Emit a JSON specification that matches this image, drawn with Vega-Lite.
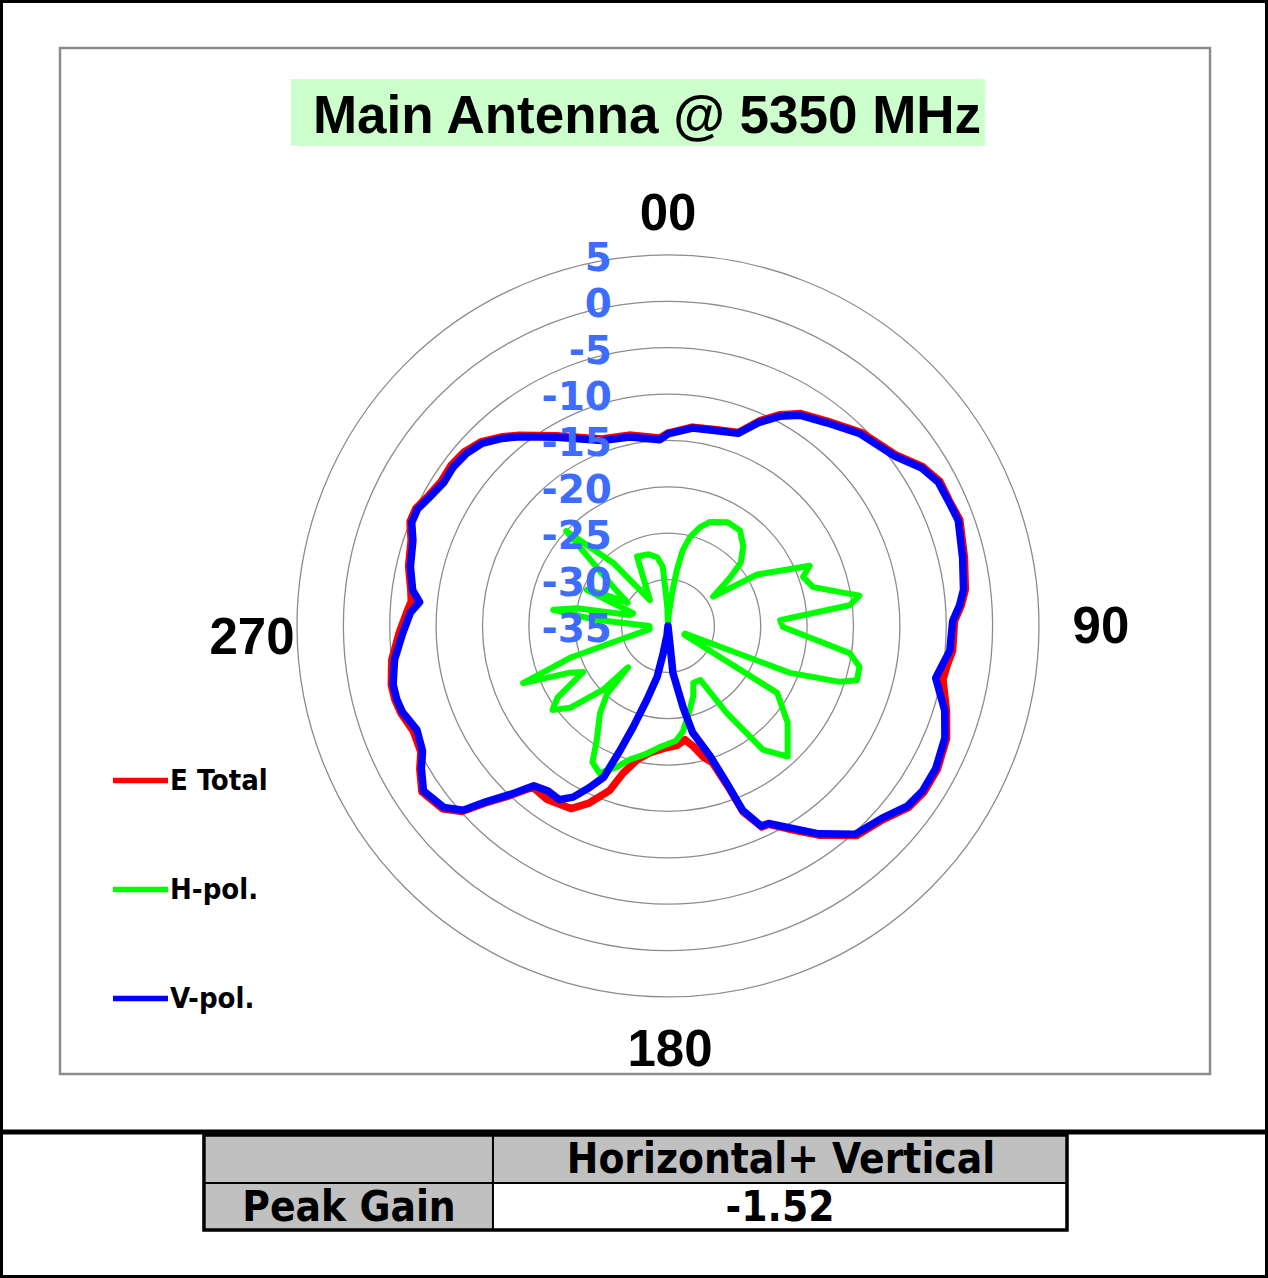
{
  "$schema": "https://vega.github.io/schema/vega-lite/v6.json",
  "width": 1268,
  "height": 1278,
  "autosize": {"type": "none"},
  "padding": 0,
  "background": "white",
  "config": {"view": {"stroke": "black", "strokeWidth": 6}},
  "datasets": {
    "pattern": [
      {"series":"V-pol.","angle":0,"gain":-14.3},{"series":"V-pol.","angle":7,"gain":-13.5},{"series":"V-pol.","angle":14,"gain":-13.3},{"series":"V-pol.","angle":20,"gain":-12.9},{"series":"V-pol.","angle":24,"gain":-11.0},{"series":"V-pol.","angle":28,"gain":-9.4},{"series":"V-pol.","angle":32,"gain":-8.2},{"series":"V-pol.","angle":38,"gain":-7.2},{"series":"V-pol.","angle":45,"gain":-5.7},{"series":"V-pol.","angle":53,"gain":-4.5},{"series":"V-pol.","angle":58,"gain":-2.8},{"series":"V-pol.","angle":62,"gain":-2.0},{"series":"V-pol.","angle":66,"gain":-1.9},{"series":"V-pol.","angle":70,"gain":-1.7},{"series":"V-pol.","angle":77,"gain":-2.4},{"series":"V-pol.","angle":83,"gain":-2.9},{"series":"V-pol.","angle":86,"gain":-3.5},{"series":"V-pol.","angle":89,"gain":-4.3},{"series":"V-pol.","angle":95,"gain":-4.5},{"series":"V-pol.","angle":98,"gain":-5.1},{"series":"V-pol.","angle":101,"gain":-5.6},{"series":"V-pol.","angle":107,"gain":-3.8},{"series":"V-pol.","angle":112,"gain":-2.8},{"series":"V-pol.","angle":118,"gain":-2.3},{"series":"V-pol.","angle":123,"gain":-2.3},{"series":"V-pol.","angle":127,"gain":-2.7},{"series":"V-pol.","angle":132,"gain":-4.0},{"series":"V-pol.","angle":138,"gain":-4.8},{"series":"V-pol.","angle":144,"gain":-7.3},{"series":"V-pol.","angle":148,"gain":-9.2},{"series":"V-pol.","angle":153,"gain":-11.1},{"series":"V-pol.","angle":155,"gain":-11.2},{"series":"V-pol.","angle":158,"gain":-13.6},{"series":"V-pol.","angle":159.5,"gain":-16.9},{"series":"V-pol.","angle":162,"gain":-20.2},{"series":"V-pol.","angle":167,"gain":-23.2},{"series":"V-pol.","angle":169.5,"gain":-26.1},{"series":"V-pol.","angle":174,"gain":-29.9},{"series":"V-pol.","angle":180,"gain":-35},{"series":"V-pol.","angle":186,"gain":-34},{"series":"V-pol.","angle":190,"gain":-32},{"series":"V-pol.","angle":192,"gain":-29.4},{"series":"V-pol.","angle":196,"gain":-26.7},{"series":"V-pol.","angle":199,"gain":-23.5},{"series":"V-pol.","angle":201,"gain":-20.7},{"series":"V-pol.","angle":203,"gain":-17.3},{"series":"V-pol.","angle":206,"gain":-15.6},{"series":"V-pol.","angle":209,"gain":-13.9},{"series":"V-pol.","angle":212,"gain":-12.9},{"series":"V-pol.","angle":216,"gain":-13.0},{"series":"V-pol.","angle":220,"gain":-12.5},{"series":"V-pol.","angle":223,"gain":-10.2},{"series":"V-pol.","angle":226,"gain":-7.7},{"series":"V-pol.","angle":228,"gain":-5.3},{"series":"V-pol.","angle":231,"gain":-3.9},{"series":"V-pol.","angle":236,"gain":-3.2},{"series":"V-pol.","angle":240,"gain":-4.3},{"series":"V-pol.","angle":243,"gain":-5.3},{"series":"V-pol.","angle":247.5,"gain":-5.7},{"series":"V-pol.","angle":252,"gain":-4.9},{"series":"V-pol.","angle":255,"gain":-4.7},{"series":"V-pol.","angle":258,"gain":-4.7},{"series":"V-pol.","angle":263,"gain":-5.3},{"series":"V-pol.","angle":268.5,"gain":-6.4},{"series":"V-pol.","angle":273,"gain":-7.2},{"series":"V-pol.","angle":275.5,"gain":-8.1},{"series":"V-pol.","angle":278,"gain":-7.2},{"series":"V-pol.","angle":283,"gain":-6.5},{"series":"V-pol.","angle":288.5,"gain":-6.0},{"series":"V-pol.","angle":292,"gain":-5.2},{"series":"V-pol.","angle":295,"gain":-5.2},{"series":"V-pol.","angle":298.5,"gain":-5.8},{"series":"V-pol.","angle":302.5,"gain":-6.3},{"series":"V-pol.","angle":306.5,"gain":-6.2},{"series":"V-pol.","angle":310.5,"gain":-6.4},{"series":"V-pol.","angle":314.5,"gain":-6.9},{"series":"V-pol.","angle":318.5,"gain":-8.0},{"series":"V-pol.","angle":322,"gain":-9.1},{"series":"V-pol.","angle":329.5,"gain":-11.4},{"series":"V-pol.","angle":340.5,"gain":-13.8},{"series":"V-pol.","angle":348.5,"gain":-14.2},{"series":"V-pol.","angle":357.5,"gain":-14.9},{"series":"V-pol.","angle":360,"gain":-14.3},

      {"series":"E Total","angle":0,"gain":-14.2},{"series":"E Total","angle":7,"gain":-13.4},{"series":"E Total","angle":14,"gain":-13.2},{"series":"E Total","angle":20,"gain":-12.8},{"series":"E Total","angle":24,"gain":-10.8},{"series":"E Total","angle":28,"gain":-9.2},{"series":"E Total","angle":32,"gain":-8.0},{"series":"E Total","angle":38,"gain":-7.0},{"series":"E Total","angle":45,"gain":-5.5},{"series":"E Total","angle":53,"gain":-4.3},{"series":"E Total","angle":58,"gain":-2.6},{"series":"E Total","angle":62,"gain":-1.8},{"series":"E Total","angle":66,"gain":-1.8},{"series":"E Total","angle":70,"gain":-1.52},{"series":"E Total","angle":77,"gain":-2.2},{"series":"E Total","angle":83,"gain":-2.7},{"series":"E Total","angle":86,"gain":-3.3},{"series":"E Total","angle":89,"gain":-4.1},{"series":"E Total","angle":95,"gain":-4.2},{"series":"E Total","angle":98,"gain":-4.6},{"series":"E Total","angle":101,"gain":-4.8},{"series":"E Total","angle":107,"gain":-3.6},{"series":"E Total","angle":112,"gain":-2.6},{"series":"E Total","angle":118,"gain":-2.1},{"series":"E Total","angle":123,"gain":-2.1},{"series":"E Total","angle":127,"gain":-2.5},{"series":"E Total","angle":132,"gain":-3.8},{"series":"E Total","angle":138,"gain":-4.6},{"series":"E Total","angle":144,"gain":-7.1},{"series":"E Total","angle":148,"gain":-9.0},{"series":"E Total","angle":153,"gain":-11.0},{"series":"E Total","angle":155,"gain":-11.1},{"series":"E Total","angle":158,"gain":-13.4},{"series":"E Total","angle":159.5,"gain":-16.5},{"series":"E Total","angle":162,"gain":-19.5},{"series":"E Total","angle":165,"gain":-20.4},{"series":"E Total","angle":168,"gain":-21.7},{"series":"E Total","angle":171.5,"gain":-22.6},{"series":"E Total","angle":175.5,"gain":-22.1},{"series":"E Total","angle":182,"gain":-21.8},{"series":"E Total","angle":188,"gain":-21.2},{"series":"E Total","angle":193,"gain":-20.2},{"series":"E Total","angle":197,"gain":-18.4},{"series":"E Total","angle":199.5,"gain":-16.2},{"series":"E Total","angle":204,"gain":-14.1},{"series":"E Total","angle":208,"gain":-12.7},{"series":"E Total","angle":215,"gain":-12.2},{"series":"E Total","angle":220,"gain":-12.3},{"series":"E Total","angle":223,"gain":-10.0},{"series":"E Total","angle":226,"gain":-7.5},{"series":"E Total","angle":228,"gain":-5.1},{"series":"E Total","angle":231,"gain":-3.7},{"series":"E Total","angle":236,"gain":-3.0},{"series":"E Total","angle":240,"gain":-4.1},{"series":"E Total","angle":243,"gain":-5.1},{"series":"E Total","angle":247.5,"gain":-5.3},{"series":"E Total","angle":252,"gain":-4.7},{"series":"E Total","angle":255,"gain":-4.5},{"series":"E Total","angle":258,"gain":-4.5},{"series":"E Total","angle":263,"gain":-5.0},{"series":"E Total","angle":268.5,"gain":-6.0},{"series":"E Total","angle":273,"gain":-6.8},{"series":"E Total","angle":275.5,"gain":-7.2},{"series":"E Total","angle":278,"gain":-7.0},{"series":"E Total","angle":283,"gain":-6.3},{"series":"E Total","angle":288.5,"gain":-5.8},{"series":"E Total","angle":292,"gain":-5.0},{"series":"E Total","angle":295,"gain":-5.0},{"series":"E Total","angle":298.5,"gain":-5.6},{"series":"E Total","angle":302.5,"gain":-6.0},{"series":"E Total","angle":306.5,"gain":-5.9},{"series":"E Total","angle":310.5,"gain":-6.1},{"series":"E Total","angle":314.5,"gain":-6.7},{"series":"E Total","angle":318.5,"gain":-7.8},{"series":"E Total","angle":322,"gain":-8.9},{"series":"E Total","angle":329.5,"gain":-11.2},{"series":"E Total","angle":340.5,"gain":-13.6},{"series":"E Total","angle":348.5,"gain":-14.0},{"series":"E Total","angle":357.5,"gain":-14.7},{"series":"E Total","angle":360,"gain":-14.2},

      {"series":"H-pol.","angle":0,"gain":-35},{"series":"H-pol.","angle":3,"gain":-34},{"series":"H-pol.","angle":7,"gain":-31.4},{"series":"H-pol.","angle":9,"gain":-28.9},{"series":"H-pol.","angle":11,"gain":-26.7},{"series":"H-pol.","angle":14,"gain":-25.1},{"series":"H-pol.","angle":18,"gain":-23.8},{"series":"H-pol.","angle":22,"gain":-22.9},{"series":"H-pol.","angle":30,"gain":-22.1},{"series":"H-pol.","angle":37,"gain":-22.1},{"series":"H-pol.","angle":43.5,"gain":-23.2},{"series":"H-pol.","angle":49,"gain":-24.6},{"series":"H-pol.","angle":52,"gain":-26.5},{"series":"H-pol.","angle":57,"gain":-29.2},{"series":"H-pol.","angle":60,"gain":-23.9},{"series":"H-pol.","angle":67,"gain":-18.4},{"series":"H-pol.","angle":70,"gain":-19.5},{"series":"H-pol.","angle":75,"gain":-18.8},{"series":"H-pol.","angle":81,"gain":-14.1},{"series":"H-pol.","angle":83.5,"gain":-15.3},{"series":"H-pol.","angle":87,"gain":-22.9},{"series":"H-pol.","angle":90.5,"gain":-22.6},{"series":"H-pol.","angle":98.5,"gain":-15.2},{"series":"H-pol.","angle":102,"gain":-13.9},{"series":"H-pol.","angle":106,"gain":-13.8},{"series":"H-pol.","angle":108,"gain":-15.5},{"series":"H-pol.","angle":111,"gain":-20.9},{"series":"H-pol.","angle":114,"gain":-33},{"series":"H-pol.","angle":118,"gain":-33},{"series":"H-pol.","angle":121.5,"gain":-21.2},{"series":"H-pol.","angle":129,"gain":-18.4},{"series":"H-pol.","angle":137.5,"gain":-15.9},{"series":"H-pol.","angle":142.5,"gain":-18.2},{"series":"H-pol.","angle":146,"gain":-23.7},{"series":"H-pol.","angle":149,"gain":-28.2},{"series":"H-pol.","angle":156,"gain":-28.3},{"series":"H-pol.","angle":160,"gain":-27},{"series":"H-pol.","angle":166,"gain":-25.5},{"series":"H-pol.","angle":172,"gain":-23.5},{"series":"H-pol.","angle":176,"gain":-22.6},{"series":"H-pol.","angle":184,"gain":-21.9},{"series":"H-pol.","angle":189,"gain":-21.1},{"series":"H-pol.","angle":196,"gain":-20.0},{"series":"H-pol.","angle":200,"gain":-18.8},{"series":"H-pol.","angle":205,"gain":-17.5},{"series":"H-pol.","angle":209,"gain":-18.2},{"series":"H-pol.","angle":212,"gain":-20.5},{"series":"H-pol.","angle":218,"gain":-23.1},{"series":"H-pol.","angle":222,"gain":-25.2},{"series":"H-pol.","angle":224,"gain":-28.8},{"series":"H-pol.","angle":225.5,"gain":-25.2},{"series":"H-pol.","angle":230,"gain":-21.3},{"series":"H-pol.","angle":234,"gain":-19.6},{"series":"H-pol.","angle":237,"gain":-20.8},{"series":"H-pol.","angle":241.5,"gain":-24.6},{"series":"H-pol.","angle":244.5,"gain":-23.3},{"series":"H-pol.","angle":248.5,"gain":-18.2},{"series":"H-pol.","angle":252,"gain":-23.9},{"series":"H-pol.","angle":254,"gain":-29.6},{"series":"H-pol.","angle":260,"gain":-33},{"series":"H-pol.","angle":270,"gain":-33},{"series":"H-pol.","angle":275,"gain":-27},{"series":"H-pol.","angle":278,"gain":-22.5},{"series":"H-pol.","angle":281,"gain":-25},{"series":"H-pol.","angle":286,"gain":-30.7},{"series":"H-pol.","angle":290,"gain":-31},{"series":"H-pol.","angle":294,"gain":-25.4},{"series":"H-pol.","angle":296,"gain":-27},{"series":"H-pol.","angle":300,"gain":-30},{"series":"H-pol.","angle":305,"gain":-28},{"series":"H-pol.","angle":313,"gain":-20},{"series":"H-pol.","angle":319,"gain":-26},{"series":"H-pol.","angle":325,"gain":-31.6},{"series":"H-pol.","angle":336,"gain":-26.8},{"series":"H-pol.","angle":345,"gain":-27},{"series":"H-pol.","angle":351,"gain":-27.5},{"series":"H-pol.","angle":355,"gain":-28.6},{"series":"H-pol.","angle":358,"gain":-33},{"series":"H-pol.","angle":360,"gain":-35}
    ],
    "levels": [
      {"level": -35, "label": "-35"}, {"level": -30, "label": "-30"}, {"level": -25, "label": "-25"},
      {"level": -20, "label": "-20"}, {"level": -15, "label": "-15"}, {"level": -10, "label": "-10"},
      {"level": -5, "label": "-5"}, {"level": 0, "label": "0"}, {"level": 5, "label": "5"}
    ]
  },
  "layer": [
    {
      "data": {"values": [{"part": "frame"}]},
      "mark": {"type": "rect", "fill": null, "stroke": "#8c8c8c", "strokeWidth": 2.5},
      "encoding": {
        "x": {"datum": -65.55, "type": "quantitative", "scale": {"domain": [-72.02, 64.69], "nice": false, "zero": false}, "axis": null},
        "x2": {"datum": 58.44},
        "y": {"datum": 62.32, "type": "quantitative", "scale": {"domain": [-70.30, 67.49], "nice": false, "zero": false}, "axis": null},
        "y2": {"datum": -48.30}
      }
    },
    {
      "data": {"values": [{"title": "Main Antenna @ 5350 MHz"}]},
      "mark": {"type": "rect", "fill": "#CCFFCC", "stroke": null},
      "encoding": {
        "x": {"datum": -40.65, "type": "quantitative"},
        "x2": {"datum": 34.18},
        "y": {"datum": 58.98, "type": "quantitative"},
        "y2": {"datum": 51.75}
      }
    },
    {
      "data": {"values": [{"title": "Main Antenna @ 5350 MHz"}]},
      "mark": {"type": "text", "font": "Liberation Sans", "fontWeight": "bold", "fontSize": 53, "align": "center", "baseline": "middle", "color": "black"},
      "encoding": {
        "x": {"datum": -2.26, "type": "quantitative"},
        "y": {"datum": 54.88, "type": "quantitative"},
        "text": {"field": "title"}
      }
    },
    {
      "data": {"name": "levels"},
      "transform": [{"filter": "datum.level > -35"}, {"calculate": "datum.level + 35", "as": "r"}],
      "mark": {"type": "point", "shape": "circle", "filled": false, "stroke": "#8c8c8c", "strokeWidth": 1.3, "opacity": 1},
      "encoding": {
        "x": {"datum": 0, "type": "quantitative"},
        "y": {"datum": 0, "type": "quantitative"},
        "size": {"field": "r", "type": "quantitative", "scale": {"type": "pow", "exponent": 2, "domain": [0, 40], "range": [0, 550564]}, "legend": null}
      }
    },
    {
      "data": {"values": [{"label": "00"}]},
      "mark": {"type": "text", "font": "Liberation Sans", "fontWeight": "bold", "fontSize": 51, "align": "center", "baseline": "middle", "color": "black"},
      "encoding": {"x": {"datum": 0, "type": "quantitative"}, "y": {"datum": 44.32, "type": "quantitative"}, "text": {"field": "label"}}
    },
    {
      "data": {"values": [{"label": "90"}]},
      "mark": {"type": "text", "font": "Liberation Sans", "fontWeight": "bold", "fontSize": 51, "align": "center", "baseline": "middle", "color": "black"},
      "encoding": {"x": {"datum": 46.68, "type": "quantitative"}, "y": {"datum": -0.21, "type": "quantitative"}, "text": {"field": "label"}}
    },
    {
      "data": {"values": [{"label": "180"}]},
      "mark": {"type": "text", "font": "Liberation Sans", "fontWeight": "bold", "fontSize": 51, "align": "center", "baseline": "middle", "color": "black"},
      "encoding": {"x": {"datum": 0.22, "type": "quantitative"}, "y": {"datum": -45.82, "type": "quantitative"}, "text": {"field": "label"}}
    },
    {
      "data": {"values": [{"label": "270"}]},
      "mark": {"type": "text", "font": "Liberation Sans", "fontWeight": "bold", "fontSize": 51, "align": "center", "baseline": "middle", "color": "black"},
      "encoding": {"x": {"datum": -44.85, "type": "quantitative"}, "y": {"datum": -1.4, "type": "quantitative"}, "text": {"field": "label"}}
    },
    {
      "data": {"name": "pattern"},
      "transform": [
        {"filter": "datum.series === 'E Total'"},
        {"calculate": "(max(datum.gain, -35) + 35) * sin(datum.angle * PI / 180)", "as": "px"},
        {"calculate": "(max(datum.gain, -35) + 35) * cos(datum.angle * PI / 180)", "as": "py"}
      ],
      "mark": {"type": "line", "strokeWidth": 7.5, "strokeJoin": "round", "strokeCap": "round"},
      "encoding": {
        "x": {"field": "px", "type": "quantitative"},
        "y": {"field": "py", "type": "quantitative"},
        "order": {"field": "angle", "type": "quantitative"},
        "color": {
          "field": "series", "type": "nominal",
          "scale": {"domain": ["E Total", "H-pol.", "V-pol."], "range": ["#FF0000", "#00FF00", "#0000FF"]},
          "legend": {
            "orient": "none", "legendX": 110, "legendY": 750, "title": null, "padding": 0,
            "symbolType": "stroke", "symbolSize": 3025, "symbolStrokeWidth": 5.5,
            "labelFont": "DejaVu Sans Condensed, DejaVu Sans", "labelFontWeight": "bold", "labelFontSize": 29,
            "labelColor": "black", "labelOffset": -1, "rowPadding": 63
          }
        }
      }
    },
    {
      "data": {"name": "pattern"},
      "transform": [
        {"filter": "datum.series === 'H-pol.'"},
        {"calculate": "(max(datum.gain, -35) + 35) * sin(datum.angle * PI / 180)", "as": "px"},
        {"calculate": "(max(datum.gain, -35) + 35) * cos(datum.angle * PI / 180)", "as": "py"}
      ],
      "mark": {"type": "line", "strokeWidth": 6, "strokeJoin": "round", "strokeCap": "round"},
      "encoding": {
        "x": {"field": "px", "type": "quantitative"},
        "y": {"field": "py", "type": "quantitative"},
        "order": {"field": "angle", "type": "quantitative"},
        "color": {"field": "series", "type": "nominal"}
      }
    },
    {
      "data": {"name": "pattern"},
      "transform": [
        {"filter": "datum.series === 'V-pol.'"},
        {"calculate": "(max(datum.gain, -35) + 35) * sin(datum.angle * PI / 180)", "as": "px"},
        {"calculate": "(max(datum.gain, -35) + 35) * cos(datum.angle * PI / 180)", "as": "py"}
      ],
      "mark": {"type": "line", "strokeWidth": 7.5, "strokeJoin": "round", "strokeCap": "round"},
      "encoding": {
        "x": {"field": "px", "type": "quantitative"},
        "y": {"field": "py", "type": "quantitative"},
        "order": {"field": "angle", "type": "quantitative"},
        "color": {"field": "series", "type": "nominal"}
      }
    },
    {
      "data": {"name": "levels"},
      "transform": [{"calculate": "datum.level + 35", "as": "r"}],
      "mark": {"type": "text", "font": "DejaVu Sans", "fontWeight": "bold", "fontSize": 39, "align": "right", "baseline": "middle", "dy": 4, "color": "#3D6CFF"},
      "encoding": {
        "x": {"datum": -6.04, "type": "quantitative"},
        "y": {"field": "r", "type": "quantitative"},
        "text": {"field": "label"}
      }
    },
    {
      "data": {"values": [{"part": "separator"}]},
      "mark": {"type": "rule", "color": "black", "strokeWidth": 5},
      "encoding": {"y": {"datum": -54.56, "type": "quantitative"}}
    },
    {
      "data": {"values": [{"cell": ""}]},
      "mark": {"type": "rect", "fill": "#C0C0C0", "stroke": "black", "strokeWidth": 2},
      "encoding": {"x": {"datum": -50.03, "type": "quantitative"}, "x2": {"datum": -18.87}, "y": {"datum": -54.88, "type": "quantitative"}, "y2": {"datum": -60.05}}
    },
    {
      "data": {"values": [{"cell": "Horizontal+ Vertical"}]},
      "mark": {"type": "rect", "fill": "#C0C0C0", "stroke": "black", "strokeWidth": 2},
      "encoding": {"x": {"datum": -18.87, "type": "quantitative"}, "x2": {"datum": 43.02}, "y": {"datum": -54.88, "type": "quantitative"}, "y2": {"datum": -60.05}}
    },
    {
      "data": {"values": [{"cell": "Peak Gain"}]},
      "mark": {"type": "rect", "fill": "#C0C0C0", "stroke": "black", "strokeWidth": 2},
      "encoding": {"x": {"datum": -50.03, "type": "quantitative"}, "x2": {"datum": -18.87}, "y": {"datum": -60.05, "type": "quantitative"}, "y2": {"datum": -65.12}}
    },
    {
      "data": {"values": [{"cell": "-1.52"}]},
      "mark": {"type": "rect", "fill": "white", "stroke": "black", "strokeWidth": 2},
      "encoding": {"x": {"datum": -18.87, "type": "quantitative"}, "x2": {"datum": 43.02}, "y": {"datum": -60.05, "type": "quantitative"}, "y2": {"datum": -65.12}}
    },
    {
      "data": {"values": [{"cell": "table"}]},
      "mark": {"type": "rect", "fill": null, "stroke": "black", "strokeWidth": 3.5},
      "encoding": {"x": {"datum": -50.03, "type": "quantitative"}, "x2": {"datum": 43.02}, "y": {"datum": -54.88, "type": "quantitative"}, "y2": {"datum": -65.12}}
    },
    {
      "data": {"values": [{"cell": "Horizontal+ Vertical"}]},
      "mark": {"type": "text", "font": "DejaVu Sans Condensed, DejaVu Sans", "fontWeight": "bold", "fontSize": 42, "align": "center", "baseline": "middle", "color": "black"},
      "encoding": {"x": {"datum": 12.18, "type": "quantitative"}, "y": {"datum": -57.6, "type": "quantitative"}, "text": {"field": "cell"}}
    },
    {
      "data": {"values": [{"cell": "Peak Gain"}]},
      "mark": {"type": "text", "font": "DejaVu Sans Condensed, DejaVu Sans", "fontWeight": "bold", "fontSize": 42, "align": "center", "baseline": "middle", "color": "black"},
      "encoding": {"x": {"datum": -34.39, "type": "quantitative"}, "y": {"datum": -62.8, "type": "quantitative"}, "text": {"field": "cell"}}
    },
    {
      "data": {"values": [{"cell": "-1.52"}]},
      "mark": {"type": "text", "font": "DejaVu Sans Condensed, DejaVu Sans", "fontWeight": "bold", "fontSize": 42, "align": "center", "baseline": "middle", "color": "black"},
      "encoding": {"x": {"datum": 12.08, "type": "quantitative"}, "y": {"datum": -62.8, "type": "quantitative"}, "text": {"field": "cell"}}
    }
  ]
}
